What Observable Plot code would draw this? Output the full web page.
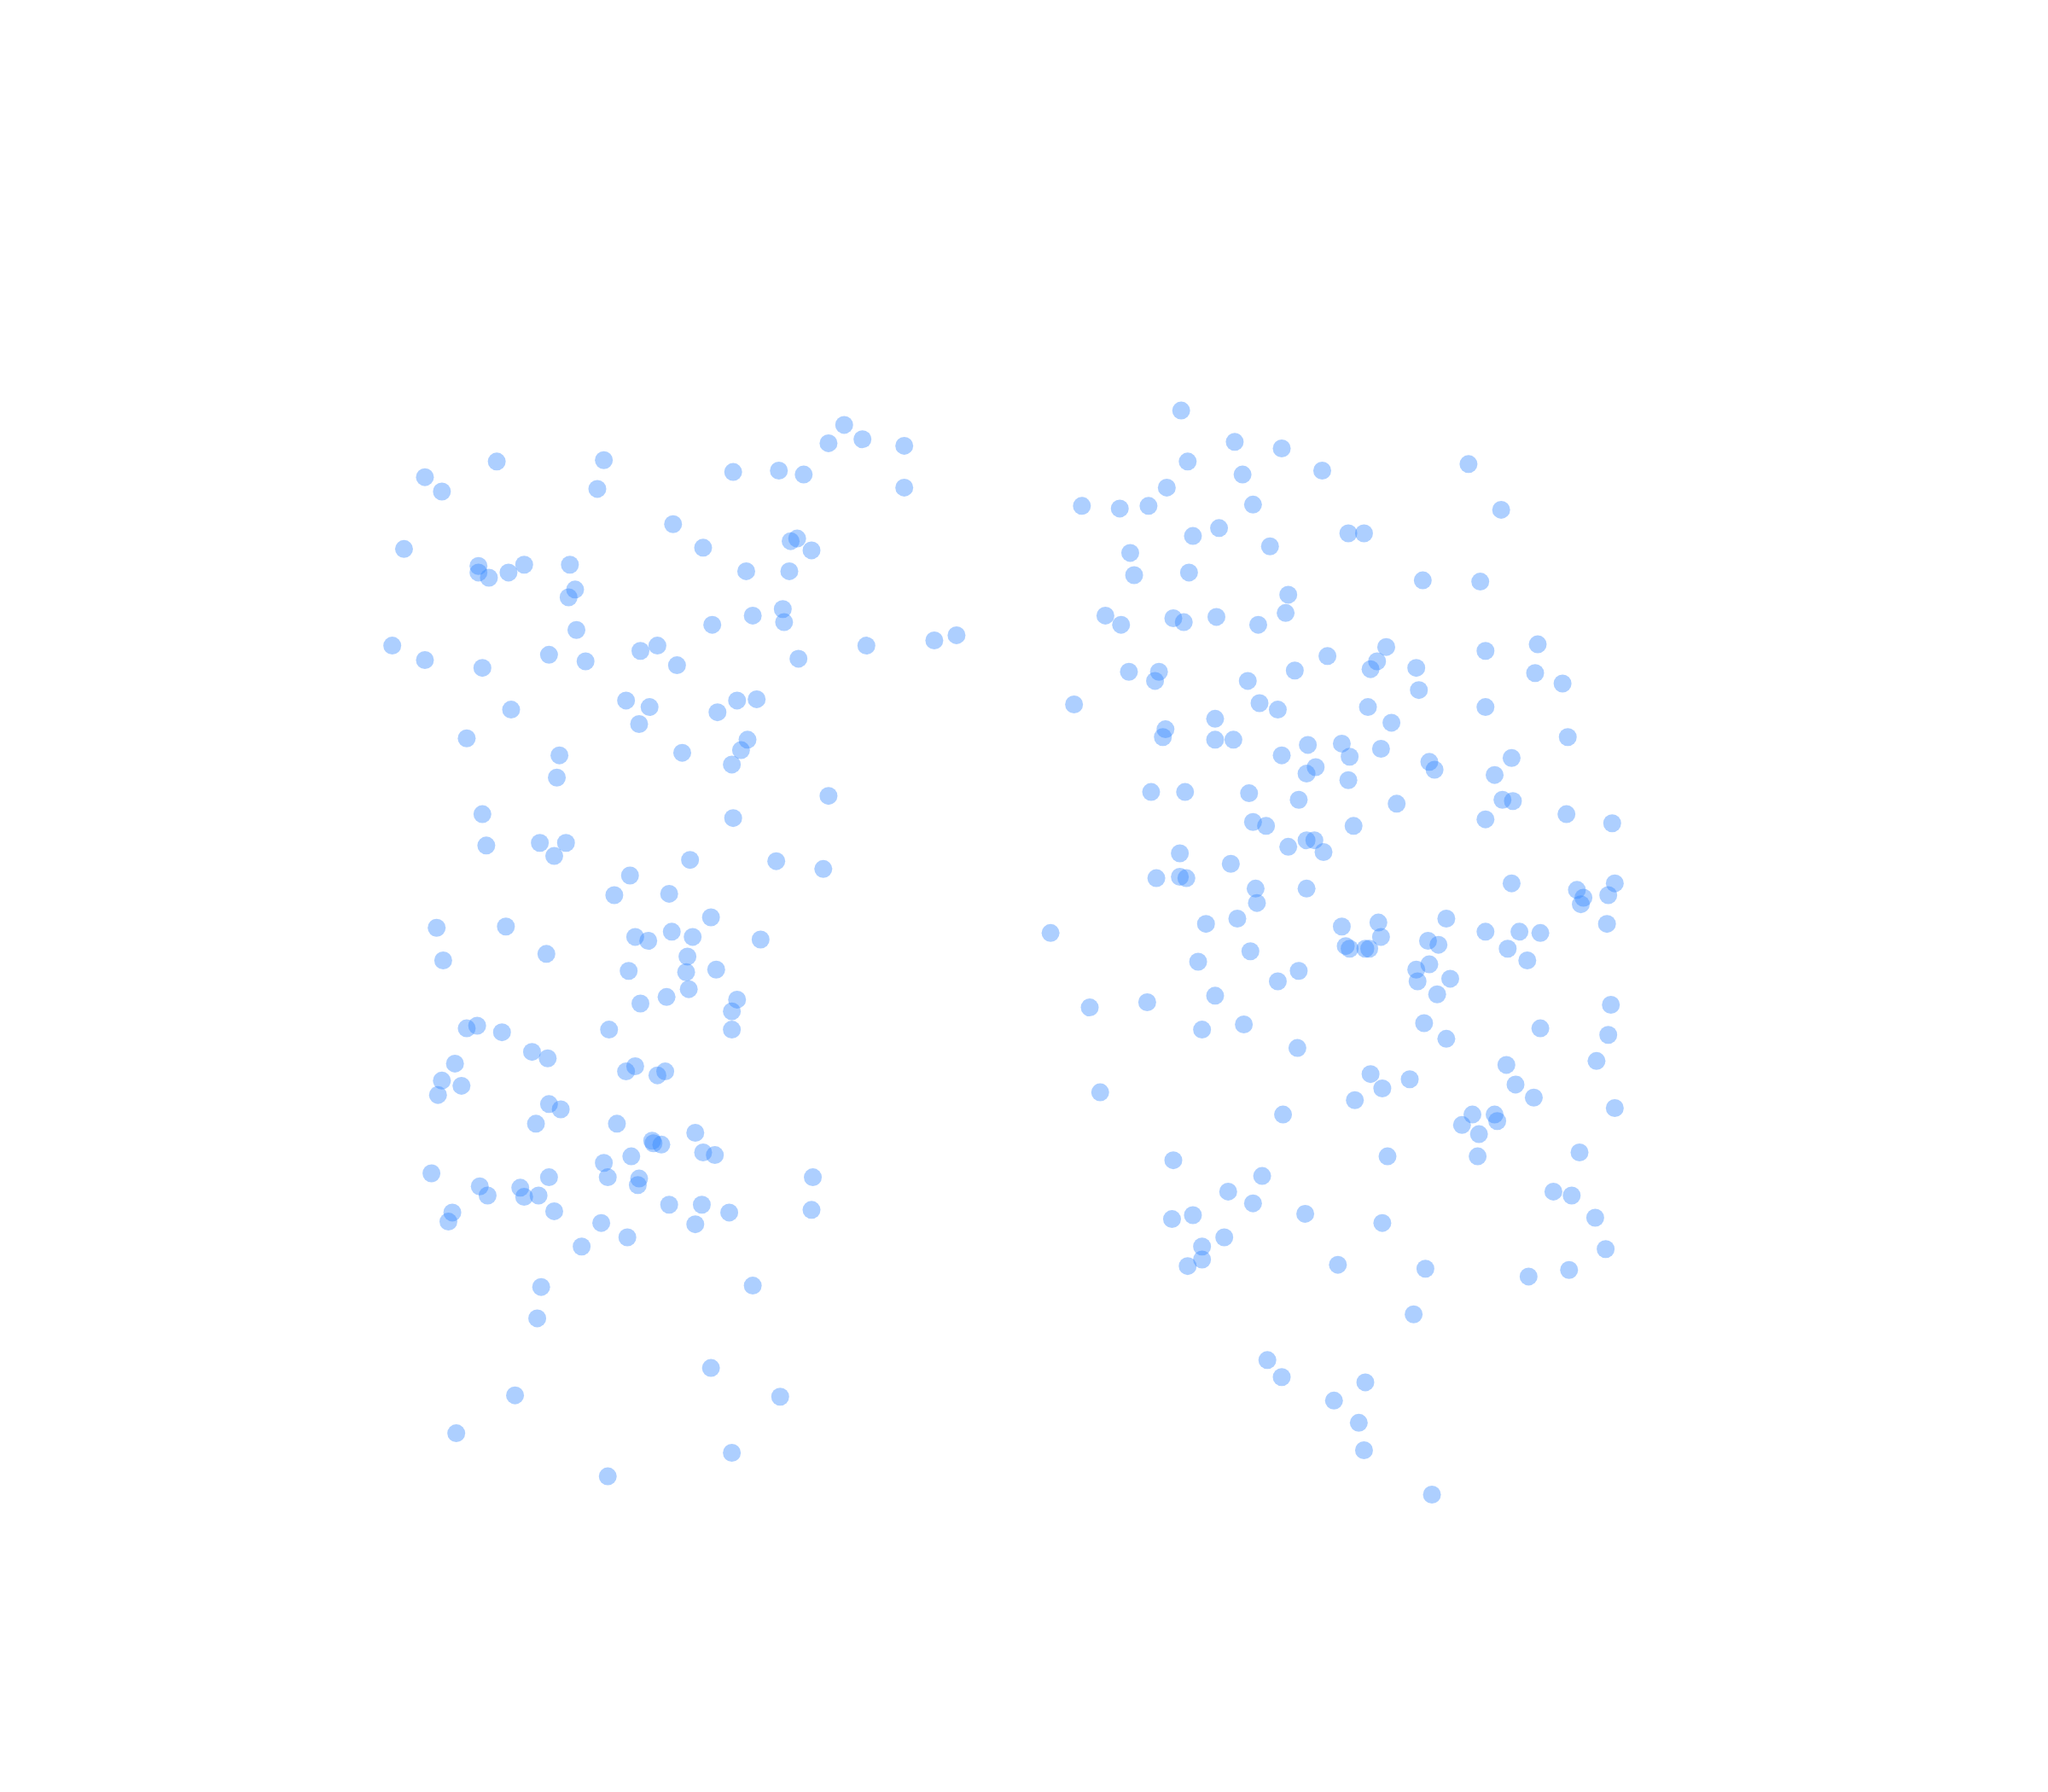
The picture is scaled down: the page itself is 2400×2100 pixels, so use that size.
<!DOCTYPE html>
<html>
<head>
<meta charset="utf-8">
<script src="https://cdn.jsdelivr.net/npm/d3@7"></script>
<script src="https://cdn.jsdelivr.net/npm/@observablehq/plot@0.6"></script>
<style>
  html, body { margin: 0; padding: 0; background: #fff; }
  #chart svg { display: block; }
</style>
</head>
<body>
<div id="chart"></div>
<script>
// Values (units of the 1568x1372 preview)
const groupA = [
  [646,325],[634,339],[660,336],[692,341],[692,373],
  [325,365],[338,376],[380,353],[462,352],[457,374],
  [561,361],[596,360],[615,363],
  [515,401],[538,419],[605,414],[610,412],[621,421],
  [309,420],
  [366,433],[366,438],[374,442],[389,438],[401,432],[436,432],[440,451],[435,457],
  [571,437],[604,437],
  [599,466],[576,471],[600,476],[545,478],
  [441,482],[300,494],[325,505],[369,511],[420,501],[448,506],[490,498],[503,494],[518,509],
  [611,504],[663,494],[715,490],[732,486],
  [479,536],[497,541],[489,554],[549,545],[564,536],[579,535],[572,566],[567,574],[560,585],
  [391,543],[357,565],[428,578],[426,595],[522,576],
  [634,609],[561,626],[369,623],[372,647],[413,645],[433,645],[424,655],
  [528,658],[594,659],[630,665],[482,670],[470,685],[512,684],
  [544,702],[334,710],[387,709],[339,735],[418,730],
  [486,717],[496,720],[514,713],[530,717],[582,719],
  [526,732],[525,744],[481,743],[548,742],[510,763],[490,768],[527,757],[564,765],[560,774],[560,788],
  [466,788],[357,787],[365,785],[384,790],
  [407,805],[419,810],[348,814],[338,827],[353,831],[335,838],
  [486,816],[479,820],[503,823],[509,820],
  [420,845],[429,849],[410,860],[472,860],[532,867],
  [499,873],[500,875],[506,876],[538,882],[547,884],[483,885],[462,890],
  [330,898],[367,908],[373,915],[398,909],[401,916],[412,915],[420,901],[465,901],[489,902],[488,907],
  [622,901],[621,926],[558,928],[537,922],[512,922],[532,937],[460,936],[480,947],[445,954],[424,927],
  [346,928],[343,935],
  [414,985],[411,1009],[576,984],
  [544,1047],[394,1068],[597,1069],[349,1097],[560,1112],[465,1130]
];
const groupB = [
  [904,314],[945,338],[981,343],[909,353],[951,363],[1012,360],[1124,355],[893,373],
  [828,387],[857,389],[879,387],[959,386],[1149,390],
  [913,410],[933,404],[972,418],[1032,408],[1044,408],
  [865,423],[868,440],[910,438],
  [1089,444],[1133,445],
  [986,455],[984,469],[963,478],[931,472],[898,473],[906,476],[846,471],[858,478],
  [1061,495],[1054,506],[1049,512],[1084,511],[1016,502],[991,513],[955,521],[1086,528],[1137,498],[1177,493],[1175,515],[1196,523],
  [864,514],[887,514],[884,521],
  [822,539],[964,538],[978,543],[1047,541],[1065,553],[1137,541],
  [930,550],[892,558],[890,564],[930,566],[944,566],
  [981,578],[1001,570],[1027,569],[1033,579],[1057,573],[1200,564],[1157,580],
  [1007,587],[1000,592],[1032,597],[1094,583],[1098,589],[1144,593],
  [881,606],[907,606],[956,607],[994,612],[1069,615],[1150,612],[1158,613],
  [959,629],[969,632],[1036,632],[1137,627],[1199,623],[1234,630],
  [1000,643],[1006,643],[986,648],[1013,652],[903,653],[942,661],
  [885,672],[903,671],[908,672],[961,680],[1000,680],[1157,676],[1236,676],[1207,681],[1212,687],[1210,692],[1231,685],
  [962,691],[947,703],[923,707],[1027,709],[1055,706],[1057,717],[1107,703],[1137,713],[1163,713],[1179,714],[1230,707],
  [804,714],[1030,724],[1033,726],[1045,726],[1048,726],[1093,720],[1101,723],[1154,726],[1169,735],
  [917,736],[957,728],[994,743],[978,751],[1084,742],[1094,738],[1085,751],[1110,749],[1100,761],
  [834,771],[878,767],[930,762],[952,784],[920,788],[1090,783],[1107,795],[1179,787],[1233,769],[1231,792],
  [993,802],[1222,812],[1153,815],[1160,830],[1049,822],[1079,826],[1058,833],[1037,842],[1174,840],
  [842,836],[982,853],[1127,853],[1119,861],[1144,853],[1146,858],[1132,868],[1236,848],
  [898,888],[1062,885],[1131,885],[1209,882],
  [966,900],[940,912],[959,921],[999,929],[913,930],[897,933],[937,947],[1058,936],[1189,912],[1203,915],[1221,932],
  [920,954],[920,964],[909,969],[1024,968],[1091,971],[1170,977],[1201,972],[1229,956],
  [1082,1006],
  [970,1041],[981,1054],[1045,1058],[1021,1072],[1040,1089],[1044,1110],[1096,1144]
];

const points = [...groupA, ...groupB].map(([x, y]) => ({x, y}));

const chart = Plot.plot({
  width: 2400,
  height: 2100,
  margin: 0,
  x: {domain: [0, 1568], range: [0, 2400], axis: null},
  y: {domain: [0, 1372], range: [0, 2100], axis: null},
  marks: [
    Plot.dot(points, {x: "x", y: "y", r: 10.5, fill: "rgb(50,135,255)", fillOpacity: 0.4, stroke: "none"})
  ]
});
document.getElementById("chart").appendChild(chart);
</script>
</body>
</html>
